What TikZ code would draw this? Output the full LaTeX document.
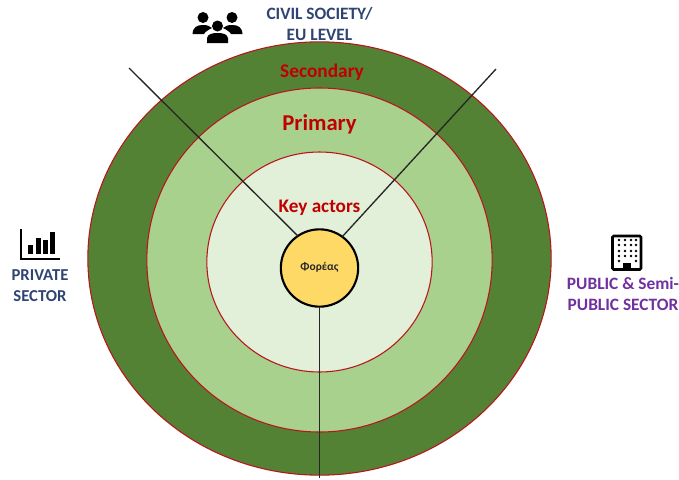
\documentclass[tikz,border=0pt]{standalone}
\usepackage{fontspec}
\setmainfont{Carlito}
\usetikzlibrary{shapes.geometric}
\definecolor{ringred}{RGB}{185,20,30}
\definecolor{darkgreen}{RGB}{84,130,53}
\definecolor{midgreen}{RGB}{169,209,142}
\definecolor{lightgreen}{RGB}{226,240,217}
\definecolor{coreyellow}{RGB}{255,217,102}
\definecolor{labelred}{RGB}{192,0,0}
\definecolor{navy}{RGB}{47,68,115}
\definecolor{purpletxt}{RGB}{112,48,160}
\tikzset{
  x=0.75pt,y=-0.75pt,
  ring/.style={ellipse,draw=ringred,line width=0.8pt,inner sep=0pt,outer sep=0pt},
  spoke/.style={draw=black!85,line width=1pt},
  ringlabel/.style={text=labelred,font=\bfseries,inner sep=0pt},
  sector/.style={font=\bfseries\fontsize{13}{15.75}\selectfont,align=center,inner sep=0pt},
  glyph/.style={fill=black,draw=none}
}
\begin{document}
\begin{tikzpicture}
\useasboundingbox (0,0) rectangle (679,479);
\node[ring,fill=darkgreen,minimum width=347.5pt,minimum height=325pt] (outer) at (319.5,258.5) {};
\node[ring,fill=midgreen,minimum width=259pt,minimum height=258pt] (mid) at (319.5,260) {};
\node[ring,fill=lightgreen,minimum width=169pt,minimum height=165pt] (inner) at (319.5,262) {};
\coordinate (endA) at (129,68);
\coordinate (endB) at (496,69);
\coordinate (endC) at (319.5,478);
\node[circle,draw=black,fill=coreyellow,line width=1.6pt,minimum size=58pt,inner sep=0pt,outer sep=0pt] (core) at (319.5,268) {};
\node[font=\bfseries\fontsize{8.6}{10}\selectfont,text=black!85] (foreas) at (319.5,267.5) {Φορέας};
\draw[spoke] (core.124) -- (endA);
\draw[spoke] (core.54) -- (endB);
\draw[spoke] (core.south) -- (endC);
\node[ringlabel,font=\bfseries\fontsize{14.5}{16}\selectfont] (secondary) at (322,72.5) {Secondary};
\node[ringlabel,font=\bfseries\fontsize{17}{19}\selectfont] (primary) at (319.5,124) {Primary};
\node[ringlabel,font=\bfseries\fontsize{14.4}{16}\selectfont] (key) at (319.5,207.5) {Key actors};
\node[sector,text=navy] (civil) at (319.5,24) {CIVIL SOCIETY/\\EU LEVEL};
\node[sector,text=navy,font=\bfseries\fontsize{12.5}{15.75}\selectfont] (private) at (40,286) {PRIVATE\\SECTOR};
\node[sector,text=purpletxt] (public) at (623,294) {PUBLIC \& Semi-\\PUBLIC SECTOR};
% people icon
\fill[glyph] (203,17.5) circle (5.5);
\fill[glyph] (232,17.5) circle (5.5);
\fill[glyph] (217.5,26) circle (5.5);
\fill[glyph] (192.5,34) .. controls (193,27) and (197,25) .. (203,25) .. controls (207,25) and (210,26) .. (212,28) .. controls (208,30) and (205,32) .. (204,34) -- cycle;
\fill[glyph] (242.5,34) .. controls (242,27) and (238,25) .. (232,25) .. controls (228,25) and (225,26) .. (223,28) .. controls (227,30) and (230,32) .. (231,34) -- cycle;
\fill[glyph] (207,43) -- (207,38) .. controls (208,34) and (212,33) .. (217.5,33) .. controls (223,33) and (227,34) .. (228,38) -- (228,43) -- cycle;
% chart icon
\draw[line width=1.3pt,black] (21,229) -- (21,259) -- (60,259);
\fill[glyph] (28,245) rectangle (33,254);
\fill[glyph] (35.5,238) rectangle (40.5,254);
\fill[glyph] (43,240) rectangle (48,254);
\fill[glyph] (50,232) rectangle (55,254);
% building icon
\draw[line width=2pt,black,fill=white,rounded corners=1pt] (612.5,236) rectangle (641,269.5);
\foreach \r in {240,245,251,256}
  \foreach \c in {619,625,631,636}
    \fill[glyph] (\c,\r) circle (1.3);
\foreach \c in {619,636}
    \fill[glyph] (\c,261) circle (1.3);
\fill[glyph] (623,263) rectangle (631,269.5);
\end{tikzpicture}
\end{document}
